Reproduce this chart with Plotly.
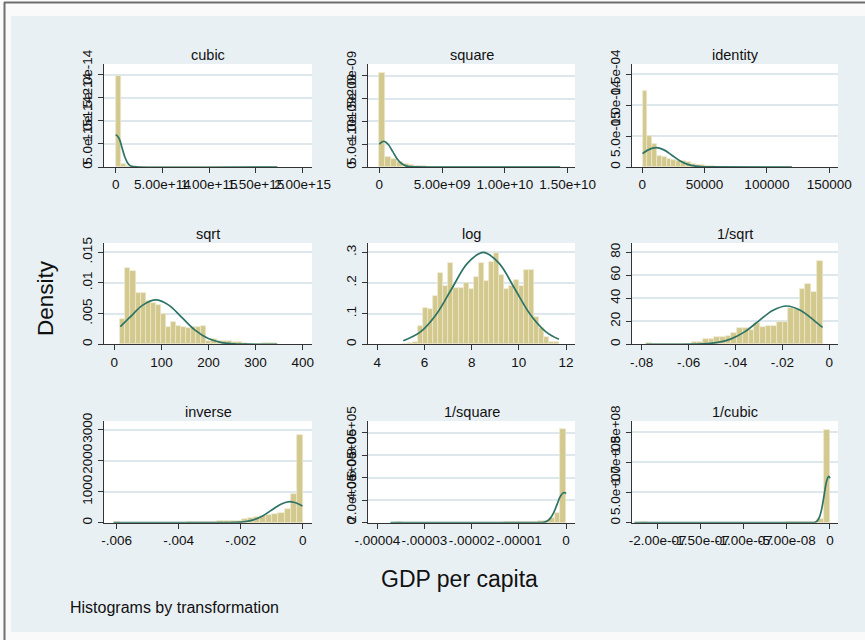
import plotly.graph_objects as go

# ---------------- data ----------------
titles = ["cubic", "square", "identity", "sqrt", "log", "1/sqrt", "inverse", "1/square", "1/cubic"]

# histogram bins: first edge, bin width, density per bin
cubic_bin_start = 0.0
cubic_bin_width = 5.4e13
cubic_density = [1.98e-14, 7.0e-16, 1.5e-16, 1.2e-16, 8e-17, 6e-17, 4e-17, 0, 0, 3e-17, 3e-17, 0, 0, 0, 0, 0,
                 0, 3e-17, 3e-17, 0, 0, 0, 0, 3e-17, 0, 0, 0, 3e-17, 3e-17, 3e-17, 3e-17]
cubic_curve_x = [0, 1e13, 3.9e13, 6.8e13, 9.7e13, 1.26e14, 1.55e14, 1.84e14, 2.42e14, 1.73e15]
cubic_curve_y = [6.78e-15, 6.88e-15, 6.07e-15, 4.17e-15, 2.23e-15, 9.3e-16, 3.0e-16, 7.6e-17, 2e-18, 0]

square_bin_start = 0.0
square_bin_width = 4.65e8
square_density = [2.05e-9, 2.2e-10, 1.7e-10, 1.1e-10, 7e-11, 4.4e-11, 2.0e-11, 1.2e-11, 8e-12, 6e-12, 6e-12,
                  4e-12, 4e-12, 4e-12, 0, 0, 0, 0, 0, 0, 4e-12, 4e-12, 0, 0, 0, 0, 4e-12, 0, 0, 0, 4e-12]
square_curve_x = [0, 3.5e8, 7.0e8, 1.06e9, 1.41e9, 1.77e9, 2.12e9, 2.47e9, 2.83e9, 1.44e10]
square_curve_y = [4.98e-10, 5.64e-10, 4.98e-10, 3.42e-10, 1.83e-10, 7.6e-11, 2.5e-11, 6.3e-12, 1.3e-12, 0]

identity_bin_start = 164
identity_bin_width = 3870
identity_density = [1.234e-4, 5.03e-5, 3.79e-5, 1.79e-5, 1.62e-5, 1.35e-5, 1.19e-5, 9.7e-6, 9.2e-6, 7.6e-6,
                    4.3e-6, 2.7e-6, 2.7e-6, 1.2e-6, 1.2e-6, 8e-7, 8e-7, 8e-7, 4e-7, 4e-7, 4e-7, 8e-7, 4e-7,
                    4e-7, 4e-7, 4e-7, 8e-7, 4e-7, 8e-7, 4e-7, 4e-7]
identity_curve_x = [164, 4650, 11000, 17350, 23700, 30050, 36400, 42750, 49100, 55450, 120000]
identity_curve_y = [2.16e-5, 2.77e-5, 3.14e-5, 2.77e-5, 1.904e-5, 1.02e-5, 4.25e-6, 1.38e-6, 3.5e-7, 6.8e-8, 0]

sqrt_bin_start = 12.8
sqrt_bin_width = 10.75
sqrt_density = [0.0041, 0.0125, 0.0120, 0.0084, 0.0084, 0.0071, 0.0068, 0.0064, 0.0049, 0.0029, 0.0037,
                0.0030, 0.0028, 0.0026, 0.0028, 0.0029, 0.0030, 0.0005, 0.0008, 0.0005, 0.0006, 0.0006,
                0.0004, 0.0004, 0.0002, 0.0001, 0.0001, 0.0001, 0.0002, 0.0002, 0.0002]
sqrt_curve_x = [12.8, 32.8, 60.4, 88, 115.6, 143.2, 170.8, 198.4, 226, 253.6, 281.2, 346]
sqrt_curve_y = [0.00287, 0.00438, 0.00638, 0.00723, 0.00638, 0.00438, 0.00235, 0.000978, 0.000317,
                0.0000802, 0.0000158, 0]

log_bin_start = 5.1
log_bin_width = 0.2129
log_density = [0, 0.005, 0.008, 0.06, 0.12, 0.115, 0.157, 0.233, 0.19, 0.264, 0.183, 0.185, 0.20, 0.18,
               0.22, 0.264, 0.205, 0.267, 0.298, 0.225, 0.18, 0.19, 0.21, 0.19, 0.242, 0.242, 0.088, 0.052,
               0.025, 0.008, 0.007]
log_curve_x = [5.1, 5.83, 6.495, 7.16, 7.825, 8.49, 9.155, 9.82, 10.485, 11.15, 11.7]
log_curve_y = [0.0116, 0.0406, 0.0974, 0.1820, 0.2648, 0.30, 0.2648, 0.1820, 0.0974, 0.0406, 0.0163]

isqrt_bin_start = -0.0781
isqrt_bin_width = 0.002426
isqrt_density = [0.9, 0, 0, 0, 0, 0, 0, 0, 1.7, 2.3, 4.3, 4.6, 6.1, 6.1, 7.5, 10, 14, 14, 12.5, 18.3, 15.4,
                 16, 16, 19.4, 19.4, 32, 31, 47.8, 52.5, 45.8, 72.5]
isqrt_curve_x = [-0.0781, -0.0661, -0.05411, -0.04812, -0.04213, -0.03614, -0.03015, -0.02416, -0.01817,
                 -0.01218, -0.00619, -0.00289]
isqrt_curve_y = [0, 0.011, 0.37, 1.46, 4.51, 10.81, 20.2, 29.39, 33.3, 29.39, 20.2, 14.77]

inverse_bin_start = -0.0061
inverse_bin_width = 0.000197
inverse_density = [32, 0, 0, 0, 0, 0, 0, 0, 0, 0, 0, 0, 30, 30, 30, 30, 30, 70, 70, 70, 70, 120, 160, 190,
                   215, 240, 265, 300, 450, 940, 2830]
inverse_curve_x = [-0.0061, -0.00277, -0.00247, -0.002177, -0.001883, -0.001588, -0.001294, -0.000999,
                   -0.000705, -0.00041, -0.000116, -0.0000083]
inverse_curve_y = [0, 0.23, 1.48, 7.5, 29.7, 91.6, 219.8, 410.6, 597.5, 677, 597.5, 536]

isquare_bin_start = -3.72e-5
isquare_bin_width = 1.2e-6
isquare_density = [0, 3000, 0, 0, 0, 0, 0, 0, 0, 0, 0, 0, 0, 0, 0, 0, 0, 0, 0, 0, 5000, 5000, 5000, 5000,
                   5000, 6000, 18000, 18000, 39000, 84000, 837000]
isquare_curve_x = [-3.72e-5, -6.35e-6, -5.61e-6, -4.87e-6, -4.13e-6, -3.39e-6, -2.64e-6, -1.90e-6,
                   -1.16e-6, -4.2e-7, -7e-11]
isquare_curve_y = [0, 90, 590, 2986, 11800, 36400, 87340, 163150, 237400, 269000, 258500]

icubic_bin_start = -2.27e-7
icubic_bin_width = 7.32e-9
icubic_density = [0, 1.5e6, 0, 0, 0, 0, 0, 0, 0, 0, 0, 0, 0, 0, 0, 0, 0, 0, 0, 0, 0, 0, 0, 0, 1.7e6, 1.7e6,
                  1.7e6, 1.7e6, 1.7e6, 5.6e6, 1.54e8]
icubic_curve_x = [-2.27e-7, -2.23e-8, -1.97e-8, -1.71e-8, -1.45e-8, -1.19e-8, -9.3e-9, -6.7e-9, -4.1e-9,
                  -1.5e-9, -1e-15]
icubic_curve_y = [0, 2.6e4, 1.68e5, 8.5e5, 3.37e6, 1.04e7, 2.49e7, 4.65e7, 6.77e7, 7.67e7, 7.36e7]

# tick values and labels
x_ticks = [
    [0, 5e14, 1e15, 1.5e15, 2e15],
    [0, 5e9, 1e10, 1.5e10],
    [0, 50000, 100000, 150000],
    [0, 100, 200, 300, 400],
    [4, 6, 8, 10, 12],
    [-0.08, -0.06, -0.04, -0.02, 0],
    [-0.006, -0.004, -0.002, 0],
    [-4e-5, -3e-5, -2e-5, -1e-5, 0],
    [-2e-7, -1.5e-7, -1e-7, -5e-8, 0],
]
x_ticklabels = [
    ["0", "5.00e+14", "1.00e+15", "1.50e+15", "2.00e+15"],
    ["0", "5.00e+09", "1.00e+10", "1.50e+10"],
    ["0", "50000", "100000", "150000"],
    ["0", "100", "200", "300", "400"],
    ["4", "6", "8", "10", "12"],
    ["-.08", "-.06", "-.04", "-.02", "0"],
    ["-.006", "-.004", "-.002", "0"],
    ["-.00004", "-.00003", "-.00002", "-.00001", "0"],
    ["-2.00e-07", "-1.50e-07", "-1.00e-07", "-5.00e-08", "0"],
]
y_ticks = [
    [0, 5e-15, 1e-14, 1.5e-14, 2e-14],
    [0, 5e-10, 1e-9, 1.5e-9, 2e-9],
    [0, 5e-5, 1e-4, 1.5e-4],
    [0, 0.005, 0.01, 0.015],
    [0, 0.1, 0.2, 0.3],
    [0, 20, 40, 60, 80],
    [0, 1000, 2000, 3000],
    [0, 2e5, 4e5, 6e5, 8e5],
    [0, 5e7, 1e8, 1.5e8],
]
y_ticklabels = [
    ["0", "5.0e-15", "1.0e-14", "1.5e-14", "2.0e-14"],
    ["0", "5.0e-10", "1.0e-09", "1.5e-09", "2.0e-09"],
    ["0", "5.0e-05", "1.0e-04", "1.5e-04"],
    ["0", ".005", ".01", ".015"],
    ["0", ".1", ".2", ".3"],
    ["0", "20", "40", "60", "80"],
    ["0", "1000", "2000", "3000"],
    ["0", "2.0e+05", "4.0e+05", "6.0e+05", "8.0e+05"],
    ["0", "5.0e+07", "1.0e+08", "1.5e+08"],
]

x_title = "GDP per capita"
y_title = "Density"
note = "Histograms by transformation"

# ---------------- figure ----------------
W, H = 865, 640
hist = [
    (cubic_bin_start, cubic_bin_width, cubic_density, cubic_curve_x, cubic_curve_y),
    (square_bin_start, square_bin_width, square_density, square_curve_x, square_curve_y),
    (identity_bin_start, identity_bin_width, identity_density, identity_curve_x, identity_curve_y),
    (sqrt_bin_start, sqrt_bin_width, sqrt_density, sqrt_curve_x, sqrt_curve_y),
    (log_bin_start, log_bin_width, log_density, log_curve_x, log_curve_y),
    (isqrt_bin_start, isqrt_bin_width, isqrt_density, isqrt_curve_x, isqrt_curve_y),
    (inverse_bin_start, inverse_bin_width, inverse_density, inverse_curve_x, inverse_curve_y),
    (isquare_bin_start, isquare_bin_width, isquare_density, isquare_curve_x, isquare_curve_y),
    (icubic_bin_start, icubic_bin_width, icubic_density, icubic_curve_x, icubic_curve_y),
]
x_ranges = [
    [-1.25e14, 2.1e15], [-9.0e8, 1.558e10], [-8270, 157060],
    [-21.9, 419.8], [3.605, 12.38], [-0.08414, 0.00371],
    [-0.00641, 0.0003], [-4.197e-5, 1.9e-6], [-2.298e-7, 9.3e-9],
]
y_ranges = [
    [0, 2.23e-14], [0, 2.257e-9], [0, 1.667e-4],
    [0, 0.01651], [0, 0.3303], [0, 88.1],
    [0, 3281], [0, 9.06e5], [0, 1.683e8],
]

cols_px = [(104, 312), (368, 575), (632, 838)]
rows_px = [(64, 167), (243, 344.3), (421, 522.7)]
title_y_px = [55, 234, 411.5]

FONT = "Liberation Sans, Arial, Helvetica, sans-serif"
BAR = "#D3C98F"
BAR_EDGE = "#ECE8CC"
CURVE = "#2D7366"
GRID = "#DDE7EC"
AXIS = "#333333"
REGION = "#E9F0F3"
TICK_SIZE = 13.5

fig = go.Figure()
layout = dict(
    width=W, height=H, margin=dict(l=0, r=0, t=0, b=0, pad=0, autoexpand=False),
    paper_bgcolor=REGION, plot_bgcolor="white", showlegend=False,
    font=dict(family=FONT, color="#111111"), bargap=0,
)
annotations = []

for i in range(9):
    r, c = divmod(i, 3)
    n = "" if i == 0 else str(i + 1)
    start, w, dens, cx, cy = hist[i]
    centers = [start + (k + 0.5) * w for k in range(len(dens))]
    fig.add_trace(go.Bar(
        x=centers, y=dens, width=[w] * len(dens),
        marker=dict(color=BAR, line=dict(color=BAR_EDGE, width=0.7)),
        xaxis="x" + n, yaxis="y" + n, hoverinfo="skip",
    ))
    fig.add_trace(go.Scatter(
        x=cx, y=cy, mode="lines", line=dict(color=CURVE, width=1.7, shape="spline", smoothing=1.0),
        xaxis="x" + n, yaxis="y" + n, hoverinfo="skip", cliponaxis=True,
    ))
    x0, x1 = cols_px[c]
    ytop, ybot = rows_px[r]
    layout["xaxis" + n] = dict(
        domain=[x0 / W, x1 / W], anchor="y" + n, range=x_ranges[i], automargin=False,
        tickmode="array", tickvals=x_ticks[i], ticktext=x_ticklabels[i], tickangle=0,
        showline=True, linecolor=AXIS, linewidth=1.3, ticks="outside", ticklen=5,
        tickcolor=AXIS, tickwidth=1.2, showgrid=False, zeroline=False,
        tickfont=dict(size=TICK_SIZE, family=FONT, color="#111111"),
    )
    layout["yaxis" + n] = dict(
        domain=[1 - ybot / H, 1 - ytop / H], anchor="x" + n, range=y_ranges[i], automargin=False,
        tickmode="array", tickvals=y_ticks[i], ticktext=y_ticklabels[i], tickangle=-90,
        showline=True, linecolor=AXIS, linewidth=1.3, ticks="outside", ticklen=5,
        tickcolor=AXIS, tickwidth=1.2, showgrid=True, gridcolor=GRID, gridwidth=1.5,
        zeroline=False, tickfont=dict(size=TICK_SIZE, family=FONT, color="#111111"),
    )
    annotations.append(dict(
        text=titles[i], xref="paper", yref="paper", x=(x0 + x1) / 2 / W,
        y=1 - title_y_px[r] / H, xanchor="center", yanchor="middle", showarrow=False,
        font=dict(size=14.5, family=FONT, color="#111111"),
    ))

annotations.append(dict(text=y_title, xref="paper", yref="paper", x=45 / W, y=1 - 298 / H,
                        textangle=-90, xanchor="center", yanchor="middle", showarrow=False,
                        font=dict(size=22.5, family=FONT, color="#111111")))
annotations.append(dict(text=x_title, xref="paper", yref="paper", x=459 / W, y=1 - 579 / H,
                        xanchor="center", yanchor="middle", showarrow=False,
                        font=dict(size=23, family=FONT, color="#111111")))
annotations.append(dict(text=note, xref="paper", yref="paper", x=68 / W, y=1 - 607 / H,
                        xanchor="left", yanchor="middle", showarrow=False,
                        font=dict(size=16, family=FONT, color="#111111")))
layout["annotations"] = annotations

# window frame around the graph region
frame = "#FAFAFA"
shapes = [
    dict(type="rect", xref="paper", yref="paper", x0=0, x1=11 / W, y0=0, y1=1,
         fillcolor=frame, line=dict(width=0), layer="above"),
    dict(type="rect", xref="paper", yref="paper", x0=0, x1=1, y0=1 - 16 / H, y1=1,
         fillcolor=frame, line=dict(width=0), layer="above"),
    dict(type="rect", xref="paper", yref="paper", x0=0, x1=1, y0=0, y1=1 - 632 / H,
         fillcolor=frame, line=dict(width=0), layer="above"),
    dict(type="line", xref="paper", yref="paper", x0=4.5 / W, x1=4.5 / W, y0=0, y1=1 - 2 / H,
         line=dict(color="#6E6E6E", width=2), layer="above"),
    dict(type="line", xref="paper", yref="paper", x0=4 / W, x1=1, y0=1 - 2.5 / H, y1=1 - 2.5 / H,
         line=dict(color="#6E6E6E", width=2), layer="above"),
]
layout["shapes"] = shapes

fig.update_layout(**layout)
fig.write_html(
    "out.html",
    config={"displayModeBar": False},
    post_script="document.body.style.margin='0px';document.body.style.padding='0px';"
                "document.body.style.overflow='hidden';",
)
